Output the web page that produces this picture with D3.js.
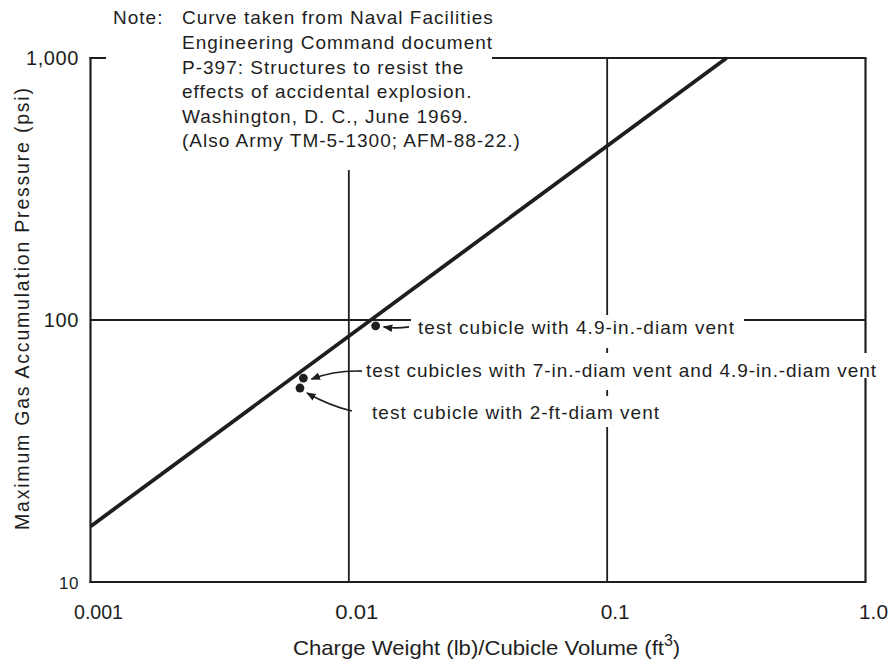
<!DOCTYPE html>
<html>
<head>
<meta charset="utf-8">
<script src="https://cdn.jsdelivr.net/npm/d3@7"></script>
<style>
  html, body { margin: 0; padding: 0; background: #fff; }
  svg { display: block; }
  text { font-family: "Liberation Sans", Arial, Helvetica, sans-serif; fill: #1e1e1e; }
</style>
</head>
<body>
<svg id="chart" width="896" height="659"></svg>
<script>
// Design curve (straight line on log-log axes)
const curveX = [0.001, 0.29];
const curveY = [16.3, 1000];

// Measured test cubicle pressures
const testX = [0.0127, 0.00667, 0.00647];
const testY = [95, 60, 55];
const testLabels = [
  "test cubicle with 4.9-in.-diam vent",
  "test cubicles with 7-in.-diam vent and 4.9-in.-diam vent",
  "test cubicle with 2-ft-diam vent"
];

// Axis ticks
const xTicks = [0.001, 0.01, 0.1, 1.0];
const xTickLabels = ["0.001", "0.01", "0.1", "1.0"];
const yTicks = [10, 100, 1000];
const yTickLabels = ["10", "100", "1,000"];

const noteLines = [
  "Engineering Command document",
  "P-397:  Structures to resist the",
  "effects of accidental explosion.",
  "Washington, D. C., June 1969.",
  "(Also Army TM-5-1300; AFM-88-22.)"
];

const svg = d3.select("#chart");
const ink = "#1e1e1e";

const x = d3.scaleLog().domain([0.001, 1]).range([90.5, 865.5]);
const y = d3.scaleLog().domain([10, 1000]).range([582, 58]);

// Frame and grid lines
const g = svg.append("g").attr("stroke", ink).attr("fill", "none");
g.append("line").attr("x1", x(0.001)).attr("x2", x(0.001)).attr("y1", y(1000) - 1).attr("y2", y(10) + 1).attr("stroke-width", 2.2);
g.append("line").attr("x1", x(0.001) - 1).attr("x2", x(1)).attr("y1", y(10)).attr("y2", y(10)).attr("stroke-width", 2.2);
g.append("line").attr("x1", x(1)).attr("x2", x(1)).attr("y1", y(1000)).attr("y2", y(10) + 1).attr("stroke-width", 2.2);
g.append("line").attr("x1", x(0.001) - 1).attr("x2", x(1) + 1).attr("y1", y(1000)).attr("y2", y(1000)).attr("stroke-width", 2);
[0.01, 0.1].forEach(v => {
  g.append("line").attr("x1", x(v)).attr("x2", x(v)).attr("y1", y(1000)).attr("y2", y(10)).attr("stroke-width", 1.8);
});
g.append("line").attr("x1", x(0.001)).attr("x2", x(1)).attr("y1", y(100)).attr("y2", y(100)).attr("stroke-width", 1.8);

// White backings behind the note and the point labels
const backs = [
  [106, 30, 386, 140],   // note block
  [411, 315, 333, 33],   // label 1
  [360, 353, 525, 25],   // label 2
  [360, 378, 500, 12],   // label 2 (lower part)
  [366, 396, 298, 31]    // label 3
];
svg.append("g").selectAll("rect").data(backs).join("rect")
  .attr("x", d => d[0]).attr("y", d => d[1]).attr("width", d => d[2]).attr("height", d => d[3])
  .attr("fill", "#fff");

// Design curve
const line = d3.line().x((d, i) => x(curveX[i])).y((d, i) => y(curveY[i]));
svg.append("path")
  .datum(curveX)
  .attr("d", line)
  .attr("fill", "none")
  .attr("stroke", ink)
  .attr("stroke-width", 3.8);

// Note
const noteStyle = s => s.attr("font-size", 19).attr("letter-spacing", 1.0);
svg.append("text").attr("x", 113).attr("y", 24).call(noteStyle).text("Note:");
svg.append("text").attr("x", 182).attr("y", 24).call(noteStyle).text("Curve taken from Naval Facilities");
noteLines.forEach((t, i) => {
  svg.append("text").attr("x", 182).attr("y", 49 + i * 24.6).call(noteStyle).text(t);
});

// Point labels
const labelPos = [[418, 334, 316], [366, 377, 510], [372, 419, 287]];
labelPos.forEach((p, i) => {
  svg.append("text").attr("x", p[0]).attr("y", p[1]).attr("font-size", 19)
    .attr("textLength", p[2]).attr("lengthAdjust", "spacing")
    .text(testLabels[i]);
});

// Test points
svg.append("g").selectAll("circle")
  .data(testX)
  .join("circle")
  .attr("cx", (d) => x(d))
  .attr("cy", (d, i) => y(testY[i]))
  .attr("r", 4.4)
  .attr("fill", ink);

// Leader arrows
const defs = svg.append("defs");
defs.append("marker").attr("id", "ah").attr("viewBox", "0 0 10 10").attr("refX", 9).attr("refY", 5)
  .attr("markerWidth", 6).attr("markerHeight", 6).attr("orient", "auto")
  .append("path").attr("d", "M0,1 L10,5 L0,9 Z").attr("fill", ink);

const p0 = [x(testX[0]), y(testY[0])];
const p1 = [x(testX[1]), y(testY[1])];
const p2 = [x(testX[2]), y(testY[2])];
const leaders = [
  `M409,${p0[1] + 1} Q396,${p0[1] + 3} ${p0[0] + 8},${p0[1] + 1}`,
  `M362,${p1[1] - 7} Q335,${p1[1] - 8} ${p1[0] + 8},${p1[1] + 1}`,
  `M352,${p2[1] + 23} Q330,${p2[1] + 18} ${p2[0] + 7},${p2[1] + 5}`
];
svg.append("g").selectAll("path").data(leaders).join("path")
  .attr("d", d => d).attr("fill", "none").attr("stroke", ink).attr("stroke-width", 1.6)
  .attr("marker-end", "url(#ah)");

// Axis tick labels
const xLen = [49, 43, 29, 29];
svg.append("g").selectAll("text").data(xTicks).join("text")
  .attr("x", d => x(d) + 8).attr("y", 619).attr("text-anchor", "middle")
  .attr("font-size", 21).attr("textLength", (d, i) => xLen[i]).attr("lengthAdjust", "spacingAndGlyphs")
  .text((d, i) => xTickLabels[i]);
const ySize = [17, 20, 20];
svg.append("g").selectAll("text").data(yTicks).join("text")
  .attr("x", 79).attr("y", d => y(d) + 7).attr("text-anchor", "end")
  .attr("font-size", (d, i) => ySize[i]).attr("letter-spacing", 0.6)
  .text((d, i) => yTickLabels[i]);

// Axis titles
const xt = svg.append("text").attr("x", 293).attr("y", 655).attr("font-size", 21);
xt.append("tspan").attr("textLength", 371).attr("lengthAdjust", "spacingAndGlyphs")
  .text("Charge Weight (lb)/Cubicle Volume (ft");
xt.append("tspan").attr("dy", -9).attr("font-size", 16).text("3");
xt.append("tspan").attr("dy", 9).text(")");

svg.append("text").attr("transform", "translate(29,309) rotate(-90)").attr("text-anchor", "middle")
  .attr("font-size", 19.5).attr("textLength", 442).attr("lengthAdjust", "spacing")
  .text("Maximum Gas Accumulation Pressure (psi)");
</script>
</body>
</html>
